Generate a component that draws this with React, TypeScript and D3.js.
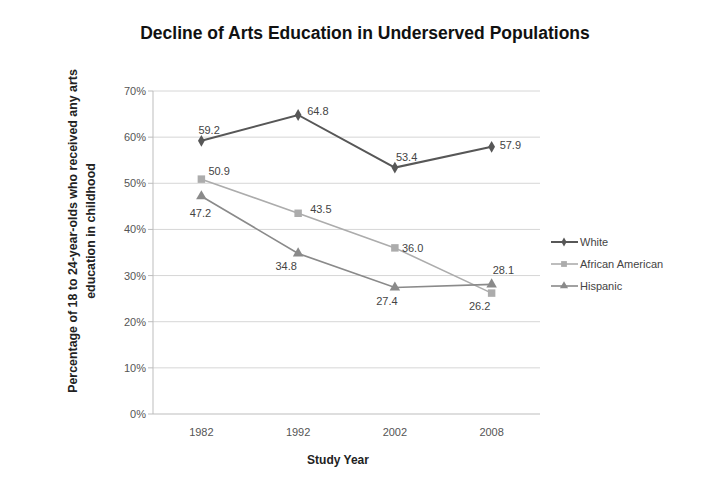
import React from 'react'
import * as d3 from 'd3'

// chart data
const years = ['1982', '1992', '2002', '2008']
const white = [59.2, 64.8, 53.4, 57.9]
const africanAmerican = [50.9, 43.5, 36.0, 26.2]
const hispanic = [47.2, 34.8, 27.4, 28.1]
const yTicks = [0, 10, 20, 30, 40, 50, 60, 70]

const W = 720
const H = 482
const FONT = '"Liberation Sans", Arial, sans-serif'

const x = d3.scaleBand<string>().domain(years).range([153, 540])
const y = d3.scaleLinear().domain([0, 70]).range([414, 91])
const cx = (yr: string) => (x(yr) ?? 0) + x.bandwidth() / 2

interface Series {
  name: string
  values: number[]
  color: string
  width: number
  symbol: d3.SymbolType
  size: number
  // label placement per point: [dx, dy, anchor]
  labels: [number, number, string][]
}

const series: Series[] = [
  {
    name: 'White', values: white, color: '#575757', width: 2,
    symbol: d3.symbolDiamond, size: 40,
    labels: [[-3, -7, 'start'], [9, 0, 'start'], [1, -7, 'start'], [8, 2, 'start']]
  },
  {
    name: 'African American', values: africanAmerican, color: '#acacac', width: 1.6,
    symbol: d3.symbolSquare, size: 56,
    labels: [[7, -4, 'start'], [12, 0, 'start'], [7, 4, 'start'], [-12, 17, 'middle']]
  },
  {
    name: 'Hispanic', values: hispanic, color: '#8a8a8a', width: 1.6,
    symbol: d3.symbolTriangle, size: 48,
    labels: [[-1, 21, 'middle'], [-12, 17, 'middle'], [-8, 17, 'middle'], [1, -10, 'start']]
  }
]

const line = d3.line<[number, number]>().x(d => d[0]).y(d => d[1])

export default function App() {
  return (
    <svg width={W} height={H} style={{ position: 'absolute', left: 0, top: 0, background: '#fff' }} fontFamily={FONT}>
      <rect width={W} height={H} fill="#fff" />
      <text x={365} y={39} textAnchor="middle" fontSize={17.5} fontWeight="bold" fill="#111">
        Decline of Arts Education in Underserved Populations
      </text>

      {/* gridlines + y ticks */}
      {yTicks.map(t => (
        <g key={t}>
          {t > 0 && <line x1={153} x2={540} y1={y(t)} y2={y(t)} stroke="#d6d6d6" strokeWidth={1} />}
          <line x1={148} x2={153} y1={y(t)} y2={y(t)} stroke="#bdbdbd" />
          <text x={146} y={y(t) + 4} textAnchor="end" fontSize={11} fill="#555">{t}%</text>
        </g>
      ))}
      <line x1={153} x2={153} y1={y(70)} y2={y(0)} stroke="#bdbdbd" />
      <line x1={153} x2={540} y1={y(0)} y2={y(0)} stroke="#bdbdbd" />

      {years.map(yr => (
        <text key={yr} x={cx(yr)} y={436} textAnchor="middle" fontSize={11} fill="#555">{yr}</text>
      ))}

      <text x={338} y={464} textAnchor="middle" fontSize={12} fontWeight="bold" fill="#222">Study Year</text>
      <g transform="translate(77,231) rotate(-90)">
        <text x={0} y={0} textAnchor="middle" fontSize={12.4} fontWeight="bold" fill="#222">
          Percentage of 18 to 24-year-olds who received any arts
        </text>
        <text x={0} y={18} textAnchor="middle" fontSize={12.4} fontWeight="bold" fill="#222">
          education in childhood
        </text>
      </g>

      {series.map(s => {
        const pts = s.values.map((v, i) => [cx(years[i]), y(v)] as [number, number])
        const sym = d3.symbol().type(s.symbol).size(s.size)()
        return (
          <g key={s.name}>
            <path d={line(pts) ?? ''} fill="none" stroke={s.color} strokeWidth={s.width} />
            {pts.map((p, i) => (
              <path key={i} d={sym ?? ''} transform={`translate(${p[0]},${p[1]})`} fill={s.color} />
            ))}
            {pts.map((p, i) => {
              const [dx, dy, anchor] = s.labels[i]
              return (
                <text key={'l' + i} x={p[0] + dx} y={p[1] + dy} textAnchor={anchor as any} fontSize={11} fill="#444">
                  {s.values[i].toFixed(1)}
                </text>
              )
            })}
          </g>
        )
      })}

      {/* legend */}
      {series.map((s, i) => {
        const ly = 242 + i * 22
        const sym = d3.symbol().type(s.symbol).size(s.size * 0.6)()
        return (
          <g key={'lg' + s.name}>
            <line x1={551} x2={578} y1={ly} y2={ly} stroke={s.color} strokeWidth={s.width} />
            <path d={sym ?? ''} transform={`translate(564,${ly})`} fill={s.color} />
            <text x={580} y={ly + 4} fontSize={11} fill="#444">{s.name}</text>
          </g>
        )
      })}
    </svg>
  )
}
